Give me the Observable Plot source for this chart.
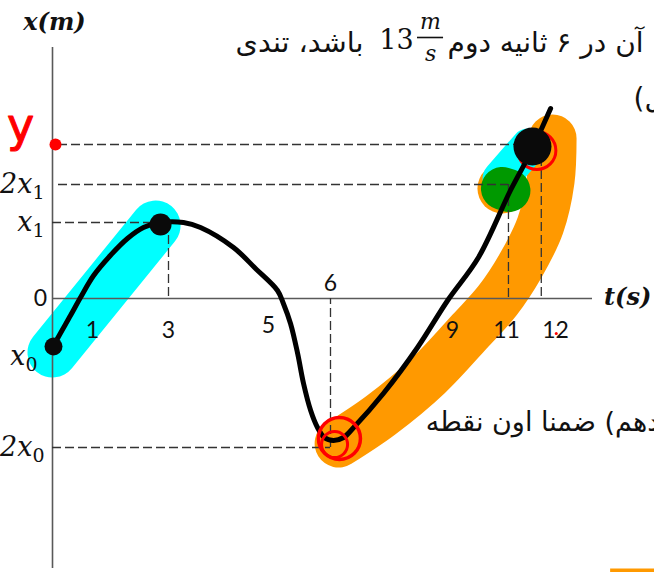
<!DOCTYPE html>
<html>
<head>
<meta charset="utf-8">
<script src="https://cdn.jsdelivr.net/npm/d3@7"></script>
<script src="https://cdn.jsdelivr.net/npm/@observablehq/plot@0.6"></script>
<style>
  html, body { margin: 0; padding: 0; background: #fff; }
  #chart svg { display: block; }
</style>
</head>
<body>
<div id="chart"></div>
<script>
// ---- data (t in s, x in arbitrary metres) ----
const tKnots   = [0, 1, 3, 5, 6, 9, 11, 12, 13];
const tTicks   = [1, 3, 9, 11, 12];
const tTickLbl = ["1", "3", "9", "11", "12"];

const levelNames  = ["y", "2x₁", "x₁", "x₀", "2x₀"];
const levelValues = [7.7, 5.7, 3.8, -2.4, -7.45];

const curveT = [0.025, 0.125, 0.45, 0.70, 1.03, 1.47, 1.92, 2.34, 2.79, 3.3, 3.64, 4.3, 4.74, 5.145, 5.24, 5.355, 5.47, 5.565, 5.68, 5.79, 5.9, 6.07, 6.32, 6.57, 7.30, 8.14, 8.88, 9.96, 11.08, 11.49, 11.90];
const curveX = [-2.4, -2.0, -0.85, 0.05, 1.15, 2.15, 3.0, 3.55, 3.8, 3.8, 3.55, 2.55, 1.5, 0.4, -0.25, -1.25, -2.75, -4.25, -5.6, -6.45, -6.95, -7.1, -6.95, -6.45, -4.75, -2.45, -0.1, 2.05, 5.4, 7.3, 9.5];

// highlighter strokes
const cyanT   = [0, 2.66];
const cyanX   = [-2.7, 3.65];
const cyan2T  = [10.78, 11.45];
const cyan2X  = [6.0, 7.6];
const orangeT = [6.20, 7.23, 8.41, 9.67, 10.67, 11.29, 11.69, 11.90, 11.94];
const orangeX = [-7.25, -5.85, -3.85, -1.6, -0.1, 1.65, 3.65, 5.9, 8.0];
const greenT  = [10.85, 11.05];
const greenX  = [5.5, 5.4];

// marked points
const blobT = [0.025, 2.79, 11.53];
const blobX = [-2.4, 3.7, 7.6];
const blobR = [9, 11, 19];

// dashed guide lines
const hDashV  = [7.7, 5.7, 3.8, -7.45];
const hDashT1 = [0.15, 0.15, 0, 0];
const hDashT2 = [11.71, 11.04, 3, 6];
const vDashT  = [3, 6, 11.04, 11.71];
const vDashV1 = [3.8, -7.45, 5.7, 7.7];

// Persian problem text fragments
const noteTop1 = "باشد، تندی";
const noteTop2 = "آن در ۶ ثانیه دوم";
const noteNum  = "13";
const noteMid  = "ل)\u200F";
const noteLow  = "دهم) ضمنا اون نقطه";

// ---- build ----
const zip = (a, b) => a.map((t, i) => ({t, x: b[i]}));
const curve = zip(curveT, curveX);
const hd = hDashV.map((v, i) => ({v, t1: hDashT1[i], t2: hDashT2[i]}));
const vd = vDashT.map((t, i) => ({t, v1: vDashV1[i], v2: 0}));
const ticks = tTicks.map((t, i) => ({t, label: tTickLbl[i]}));
const blobs = blobT.map((t, i) => ({t, x: blobX[i], r: blobR[i]}));

const serif = "DejaVu Serif";
const sans = "Lato";
const fa = "DejaVu Sans";
const ink = "#111";

const chart = Plot.plot({
  width: 654,
  height: 572,
  marginLeft: 52,
  marginRight: 62,
  marginTop: 47,
  marginBottom: 4,
  style: {background: "white", overflow: "visible"},
  x: {type: "linear", domain: tKnots, range: [52, 92, 168, 268, 330, 452, 506, 555, 592], axis: null},
  y: {domain: [-13.5, 12.55], axis: null},
  r: {type: "identity"},
  marks: [
    // highlighter
    Plot.line(zip(cyanT, cyanX), {x: "t", y: "x", stroke: "#00ffff", strokeWidth: 50, strokeLinecap: "round"}),
    Plot.line(zip(orangeT, orangeX), {x: "t", y: "x", stroke: "#ff9900", strokeWidth: 48, strokeLinecap: "round", strokeLinejoin: "round", curve: "catmull-rom"}),
    Plot.dot([{t: greenT[0], x: greenX[0]}], {x: "t", y: "x", r: 25, fill: "#ff9900"}),
    Plot.line(zip(cyan2T, cyan2X), {x: "t", y: "x", stroke: "#00ffff", strokeWidth: 36, strokeLinecap: "round"}),
    Plot.line(zip(greenT, greenX), {x: "t", y: "x", stroke: "#009900", strokeWidth: 43, strokeLinecap: "round"}),
    // axes
    Plot.ruleY([0], {stroke: "#595959", strokeWidth: 1.6}),
    Plot.ruleX([0], {stroke: "#595959", strokeWidth: 1.6}),
    // dashed guides
    Plot.ruleY(hd, {y: "v", x1: "t1", x2: "t2", stroke: "#333", strokeWidth: 1.3, strokeDasharray: "9,4"}),
    Plot.ruleX(vd, {x: "t", y1: "v1", y2: "v2", stroke: "#333", strokeWidth: 1.3, strokeDasharray: "9,4"}),
    // red ring behind top blob
    Plot.dot([{t: 11.62, x: 7.4}], {x: "t", y: "x", r: 19, stroke: "red", strokeWidth: 3, fill: "none"}),
    // curve
    Plot.line(curve, {x: "t", y: "x", stroke: "black", strokeWidth: 5, curve: "catmull-rom"}),
    // blobs
    Plot.dot(blobs, {x: "t", y: "x", r: "r", fill: "#0a0a0a"}),
    // red circles at the minimum
    Plot.dot([{t: 6.22, x: -7.0}], {x: "t", y: "x", r: 21, stroke: "red", strokeWidth: 3.5, fill: "none"}),
    Plot.dot([{t: 6.1, x: -7.3}], {x: "t", y: "x", r: 13, stroke: "red", strokeWidth: 3, fill: "none"}),
    // red y point on axis
    Plot.dot([{t: 0.075, x: levelValues[0]}], {x: "t", y: "x", r: 6, fill: "red"}),
    Plot.text([levelNames[0]], {x: -0.8, y: 8.6, text: d => d, fill: "red", stroke: "red", strokeWidth: 1, fontSize: 46, fontFamily: fa}),
    Plot.dot([{t: 12.02, x: -1.75}], {x: "t", y: "x", r: 1.5, fill: "red"}),
    // tick labels
    Plot.text(ticks, {x: "t", y: 0, dy: 32, text: "label", fontSize: 23, fontFamily: sans, fill: ink}),
    Plot.text(["5"], {x: 5, y: 0, dy: 27, text: d => d, fontSize: 23, fontFamily: sans, fill: ink}),
    Plot.text(["6"], {x: 6, y: 0, dy: -15, text: d => d, fontSize: 23, fontFamily: sans, fill: ink}),
    Plot.text(["0"], {x: 0, y: 0, dx: -12, text: d => d, fontSize: 23, fontFamily: sans, fill: ink}),
    // level labels (subscripts styled afterwards)
    Plot.text([1, 2, 4], {x: 0, y: i => levelValues[i], text: i => levelNames[i], dx: -8, dy: 0, textAnchor: "end", fontSize: 27, fontFamily: serif, fontStyle: "italic", fill: ink, ariaLabel: "sublabel"}),
    Plot.text([3], {x: 0, y: i => levelValues[i], text: i => levelNames[i], dx: -15, dy: 10, textAnchor: "end", fontSize: 27, fontFamily: serif, fontStyle: "italic", fill: ink, ariaLabel: "sublabel"}),
    // axis titles
    Plot.text(["x(m)"], {x: 0.05, y: 13.8, text: d => d, fontSize: 24, fontFamily: serif, fontStyle: "italic", fontWeight: "bold", fill: ink}),
    Plot.text(["t(s)"], {x: 13.95, y: 0.05, text: d => d, fontSize: 24, fontFamily: serif, fontStyle: "italic", fontWeight: "bold", fill: ink}),
    // Persian text fragments
    Plot.text([noteTop1], {x: 5.5, y: 12.75, text: d => d, textAnchor: "middle", fontSize: 28, fontFamily: fa, fill: ink, ariaLabel: "note-wide"}),
    Plot.text([noteNum], {x: 7.62, y: 12.9, text: d => d, fontSize: 27, fontFamily: serif, fill: ink}),
    Plot.text(["m"], {x: 8.46, y: 13.85, text: d => d, fontSize: 22, fontFamily: serif, fontStyle: "italic", fill: ink}),
    Plot.ruleY([13.05], {x1: 8.14, x2: 8.78, stroke: ink, strokeWidth: 1.6}),
    Plot.text(["s"], {x: 8.46, y: 12.25, text: d => d, fontSize: 22, fontFamily: serif, fontStyle: "italic", fill: ink}),
    Plot.text([noteTop2], {x: 8.88, y: 12.75, text: d => d, textAnchor: "start", fontSize: 28, fontFamily: fa, fill: ink}),
    Plot.text([noteMid], {x: 14.11, y: 9.95, text: d => d, textAnchor: "start", fontSize: 28, fontFamily: fa, fill: ink}),
    Plot.text([noteLow], {x: 8.34, y: -6.2, text: d => d, textAnchor: "start", fontSize: 27, fontFamily: fa, fill: ink}),
    // stray highlighter at bottom right
    Plot.ruleY([-13.6], {x1: 13.49, x2: 14.8, stroke: "#ff9900", strokeWidth: 4})
  ]
});

// subscripts as real tspans
const subs = {"₀": "0", "₁": "1"};
chart.querySelectorAll("text").forEach(el => {
  const s = el.textContent;
  const last = s[s.length - 1];
  if (s.length > 1 && subs[last] && el.children.length === 0) {
    el.textContent = s.slice(0, -1);
    const ts = document.createElementNS("http://www.w3.org/2000/svg", "tspan");
    ts.setAttribute("dy", "6");
    ts.setAttribute("font-size", "19");
    ts.setAttribute("font-style", "normal");
    ts.textContent = subs[last];
    el.appendChild(ts);
  }
});
// widen the first Persian fragment to the sketch's spacing
chart.querySelectorAll("text").forEach(el => {
  if (el.textContent === noteTop1) {
    el.setAttribute("textLength", "128");
    el.setAttribute("lengthAdjust", "spacingAndGlyphs");
  }
});

document.getElementById("chart").append(chart);
</script>
</body>
</html>
